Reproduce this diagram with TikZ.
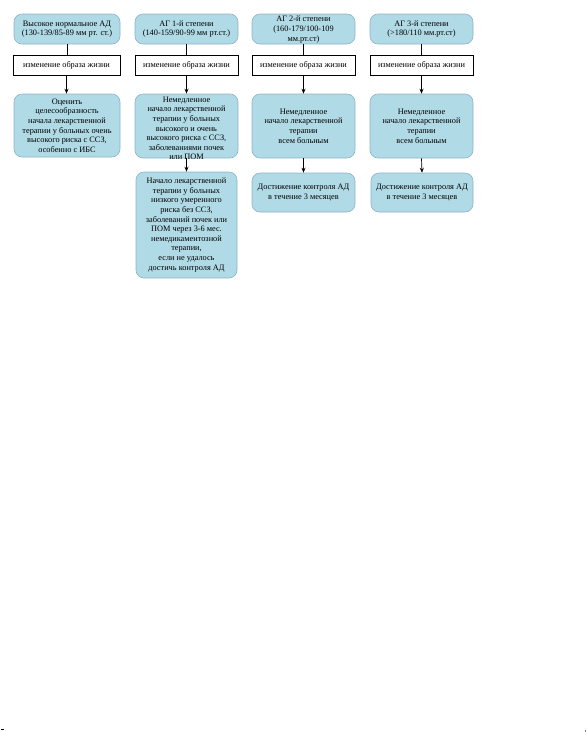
\documentclass[tikz,border=0pt]{standalone}
\usepackage{fontspec}
\setmainfont{Liberation Serif}
\usetikzlibrary{arrows.meta}
\definecolor{boxfill}{RGB}{176,218,230}
\definecolor{boxline}{RGB}{140,180,200}
\begin{document}
\begin{tikzpicture}[x=1pt,y=-1pt,
  font=\fontsize{8.3}{9.6}\selectfont,
  bluebox/.style={draw=boxline,fill=boxfill,rounded corners=8pt,align=center,inner sep=1pt,line width=0.6pt},
  lifebox/.style={draw=black,fill=white,align=center,inner sep=1pt,line width=0.8pt,minimum height=20pt},
  txt/.style={align=center,inner sep=0pt},
  arr/.style={-{Stealth[length=5pt,width=4pt]},line width=0.7pt},
  plain/.style={line width=0.7pt}]
\useasboundingbox (0,0) rectangle (587,732);
% column 1
\node[bluebox,minimum width=106pt,minimum height=30pt] (t1) at (67,29) {Высокое нормальное АД\\(130-139/85-89 мм рт. ст.)};
\node[lifebox,minimum width=107pt] (l1) at (66.5,65) {изменение образа жизни};
\node[bluebox,minimum width=106pt,minimum height=63pt] (m1) at (67,125.5) {Оценить\\целесообразность\\начала лекарственной\\терапии у больных очень\\высокого риска с ССЗ,\\особенно с ИБС};
% column 2
\node[bluebox,minimum width=103pt,minimum height=30pt] (t2) at (186.5,29) {АГ 1-й степени\\(140-159/90-99 мм рт.ст.)};
\node[lifebox,minimum width=103pt] (l2) at (186.5,65) {изменение образа жизни};
\node[bluebox,minimum width=103pt,minimum height=64pt] (m2) at (186.5,126) {};
\node[txt,anchor=north] (m2t) at ([yshift=-3pt]m2.north) {Немедленное\\начало лекарственной\\терапии у больных\\высокого и очень\\высокого риска с ССЗ,\\заболеваниями почек\\или ПОМ};
\node[bluebox,minimum width=101pt,minimum height=106pt] (b2) at (186.5,225) {Начало лекарственной\\терапии у больных\\низкого умеренного\\риска без ССЗ,\\заболеваний почек или\\ПОМ через 3-6 мес.\\немедикаментозной\\терапии,\\если не удалось\\достичь контроля АД};
% column 3
\node[bluebox,minimum width=103pt,minimum height=30pt] (t3) at (303.5,29) {};
\node[txt] (t3t) at (303.5,29.5) {АГ 2-й степени\\(160-179/100-109\\мм.рт.ст)};
\node[lifebox,minimum width=103pt] (l3) at (303.5,65) {изменение образа жизни};
\node[bluebox,minimum width=103pt,minimum height=64pt] (m3) at (303.5,126) {Немедленное\\начало лекарственной\\терапии\\всем больным};
\node[bluebox,minimum width=103pt,minimum height=39pt] (b3) at (303.5,192.5) {Достижение контроля АД\\в течение 3 месяцев};
% column 4
\node[bluebox,minimum width=103pt,minimum height=30pt] (t4) at (421.5,29) {АГ 3-й степени\\(>180/110 мм.рт.ст)};
\node[lifebox,minimum width=103pt] (l4) at (421.5,65) {изменение образа жизни};
\node[bluebox,minimum width=103pt,minimum height=64pt] (m4) at (421.5,126) {Немедленное\\начало лекарственной\\терапии\\всем больным};
\node[bluebox,minimum width=102pt,minimum height=39pt] (b4) at (422,192.5) {Достижение контроля АД\\в течение 3 месяцев};
% connectors
\foreach \i in {1,2,3,4} {
  \draw[plain] (t\i.south) -- (t\i.south |- l\i.north);
  \draw[arr] (l\i.south) -- (l\i.south |- m\i.north);
}
\draw[arr] (m2.south) -- (m2.south |- b2.north);
\draw[arr] (m3.south) -- (m3.south |- b3.north);
\draw[arr] (m4.south) -- (b4.north);
% corner marks
\coordinate (ma) at (1,729.5);
\coordinate (mb) at (4,729.5);
\draw[line width=0.8pt] (ma) -- (mb);
\coordinate (mc) at (585.5,730);
\coordinate (md) at (585.5,731.5);
\draw[line width=0.6pt,gray] (mc) -- (md);
\end{tikzpicture}
\end{document}
